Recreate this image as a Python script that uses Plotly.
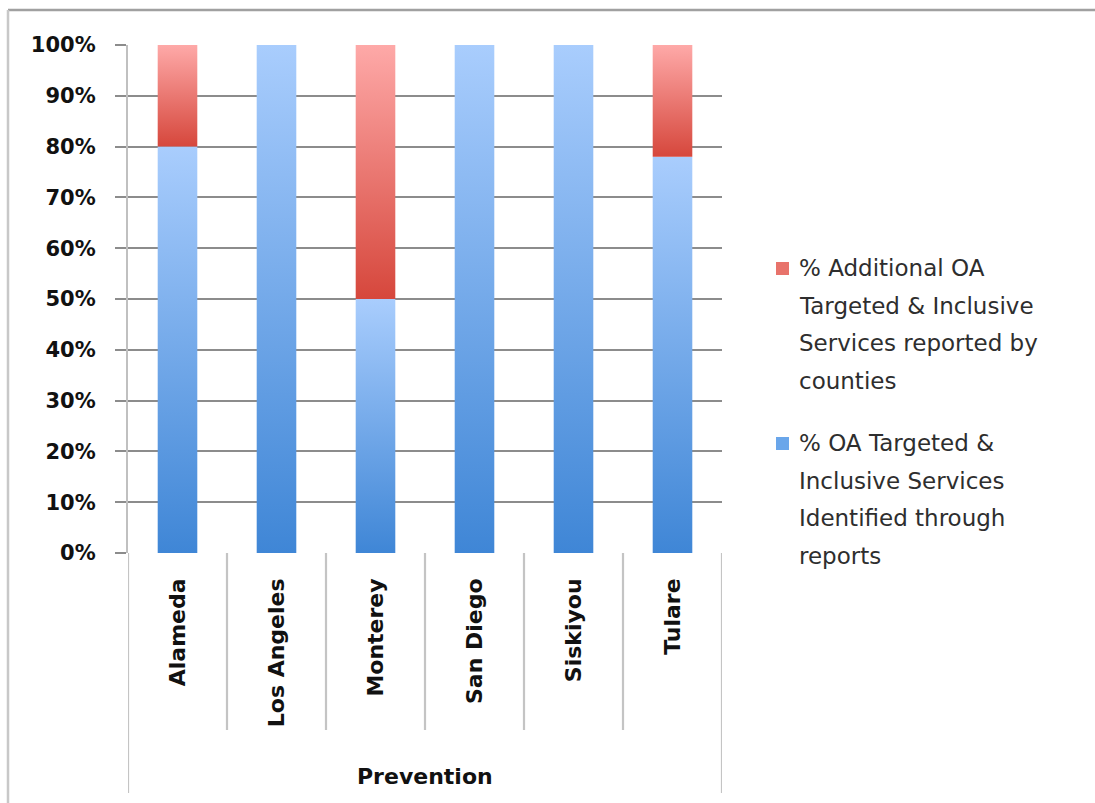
import plotly.graph_objects as go

# County shares of OA targeted & inclusive prevention services (percent)
counties = ["Alameda", "Los Angeles", "Monterey", "San Diego", "Siskiyou", "Tulare"]
identified = [80, 100, 50, 100, 100, 78]
additional = [20, 0, 50, 0, 0, 22]
group_label = "Prevention"
y_ticks = [0, 10, 20, 30, 40, 50, 60, 70, 80, 90, 100]

legend_red = ["% Additional OA", "Targeted & Inclusive", "Services reported by", "counties"]
legend_blue = ["% OA Targeted &", "Inclusive Services", "Identified through", "reports"]

BLUE_SCALE = [[0, "#3f86d6"], [1, "#a9cdfd"]]
RED_SCALE = [[0, "#d6473c"], [1, "#fea9a8"]]

# Figure geometry (pixels) used to place items outside the plot area
W, H = 1095, 803
L, R, T, B = 128, 373, 45, 250
PW, PH = W - L - R, H - T - B


def px_x(px):
    return (px - L) / PW


def px_y(py):
    return (H - B - py) / PH


BAR_HALF = 0.2
fig = go.Figure()

# Each stacked segment is a filled rectangle with its own vertical gradient
for vals, bases, cscale in [
    (identified, [0] * len(counties), BLUE_SCALE),
    (additional, identified, RED_SCALE),
]:
    for i, (v, base) in enumerate(zip(vals, bases)):
        if v <= 0:
            continue
        top = base + v
        fig.add_trace(go.Scatter(
            x=[i - BAR_HALF, i + BAR_HALF, i + BAR_HALF, i - BAR_HALF, i - BAR_HALF],
            y=[base, base, top, top, base],
            mode="lines", line=dict(width=0),
            fill="toself", fillcolor=cscale[0][1],
            fillgradient=dict(type="vertical", colorscale=cscale, start=base, stop=top),
            showlegend=False, hoverinfo="skip",
        ))

# Category dividers of the two-level axis
shapes = []
for k in range(len(counties) + 1):
    outer = k in (0, len(counties))
    shapes.append(dict(type="line", xref="x", yref="paper",
                       x0=k - 0.5, x1=k - 0.5, y0=0, y1=px_y(793) if outer else px_y(730),
                       line=dict(color="#c4c4c4", width=2.2)))
# Outer frame around the chart
shapes.append(dict(type="line", xref="paper", yref="paper",
                   x0=px_x(8), x1=px_x(W + 5), y0=px_y(10), y1=px_y(10),
                   line=dict(color="#a0a0a0", width=2.5)))
shapes.append(dict(type="line", xref="paper", yref="paper",
                   x0=px_x(8), x1=px_x(8), y0=px_y(10), y1=px_y(H + 5),
                   line=dict(color="#c8c8c8", width=2.5)))

# Legend keys
annotations = []
for lines, top_y, key_col in [
    (legend_red, 268, "#e8736b"),
    (legend_blue, 443, "#6aa6ea"),
]:
    shapes.append(dict(type="rect", xref="paper", yref="paper",
                       x0=px_x(776), x1=px_x(789), y0=px_y(top_y - 6), y1=px_y(top_y + 7),
                       fillcolor=key_col, line=dict(width=0)))
    for j, txt in enumerate(lines):
        annotations.append(dict(
            text=txt, xref="paper", yref="paper",
            x=px_x(797), y=px_y(top_y + j * 37.6),
            xanchor="left", yanchor="middle", showarrow=False,
            font=dict(size=23, family="DejaVu Sans", color="#2e2e2e"),
        ))

annotations.append(dict(
    text=group_label, xref="paper", yref="paper", x=0.5, y=px_y(776),
    xanchor="center", yanchor="middle", showarrow=False,
    font=dict(size=22, family="DejaVu Sans", color="#111", weight="bold"),
))

fig.update_layout(
    width=W, height=H,
    margin=dict(l=L, r=R, t=T, b=B, autoexpand=False),
    paper_bgcolor="white", plot_bgcolor="white",
    font=dict(family="DejaVu Sans", color="#222"),
    shapes=shapes,
    annotations=annotations,
    showlegend=False,
    xaxis=dict(
        range=[-0.5, len(counties) - 0.5],
        tickvals=list(range(len(counties))), ticktext=counties,
        tickangle=-90, showgrid=False, zeroline=False, showline=False,
        ticks="", ticklabelstandoff=20,
        tickfont=dict(size=22, family="DejaVu Sans", color="#111", weight="bold"),
        fixedrange=True,
    ),
    yaxis=dict(
        range=[0, 100], tickvals=y_ticks, ticktext=[f"{t}%" for t in y_ticks],
        showgrid=True, gridcolor="#8c8c8c", gridwidth=1.6,
        showline=True, linecolor="#c0c0c0", linewidth=2.2,
        ticks="outside", ticklen=11, tickcolor="#8c8c8c", tickwidth=1.6,
        zeroline=False, ticklabelstandoff=15,
        tickfont=dict(size=21, family="DejaVu Sans", color="#111", weight="bold"),
        fixedrange=True,
    ),
)

fig.write_html("out.html")
